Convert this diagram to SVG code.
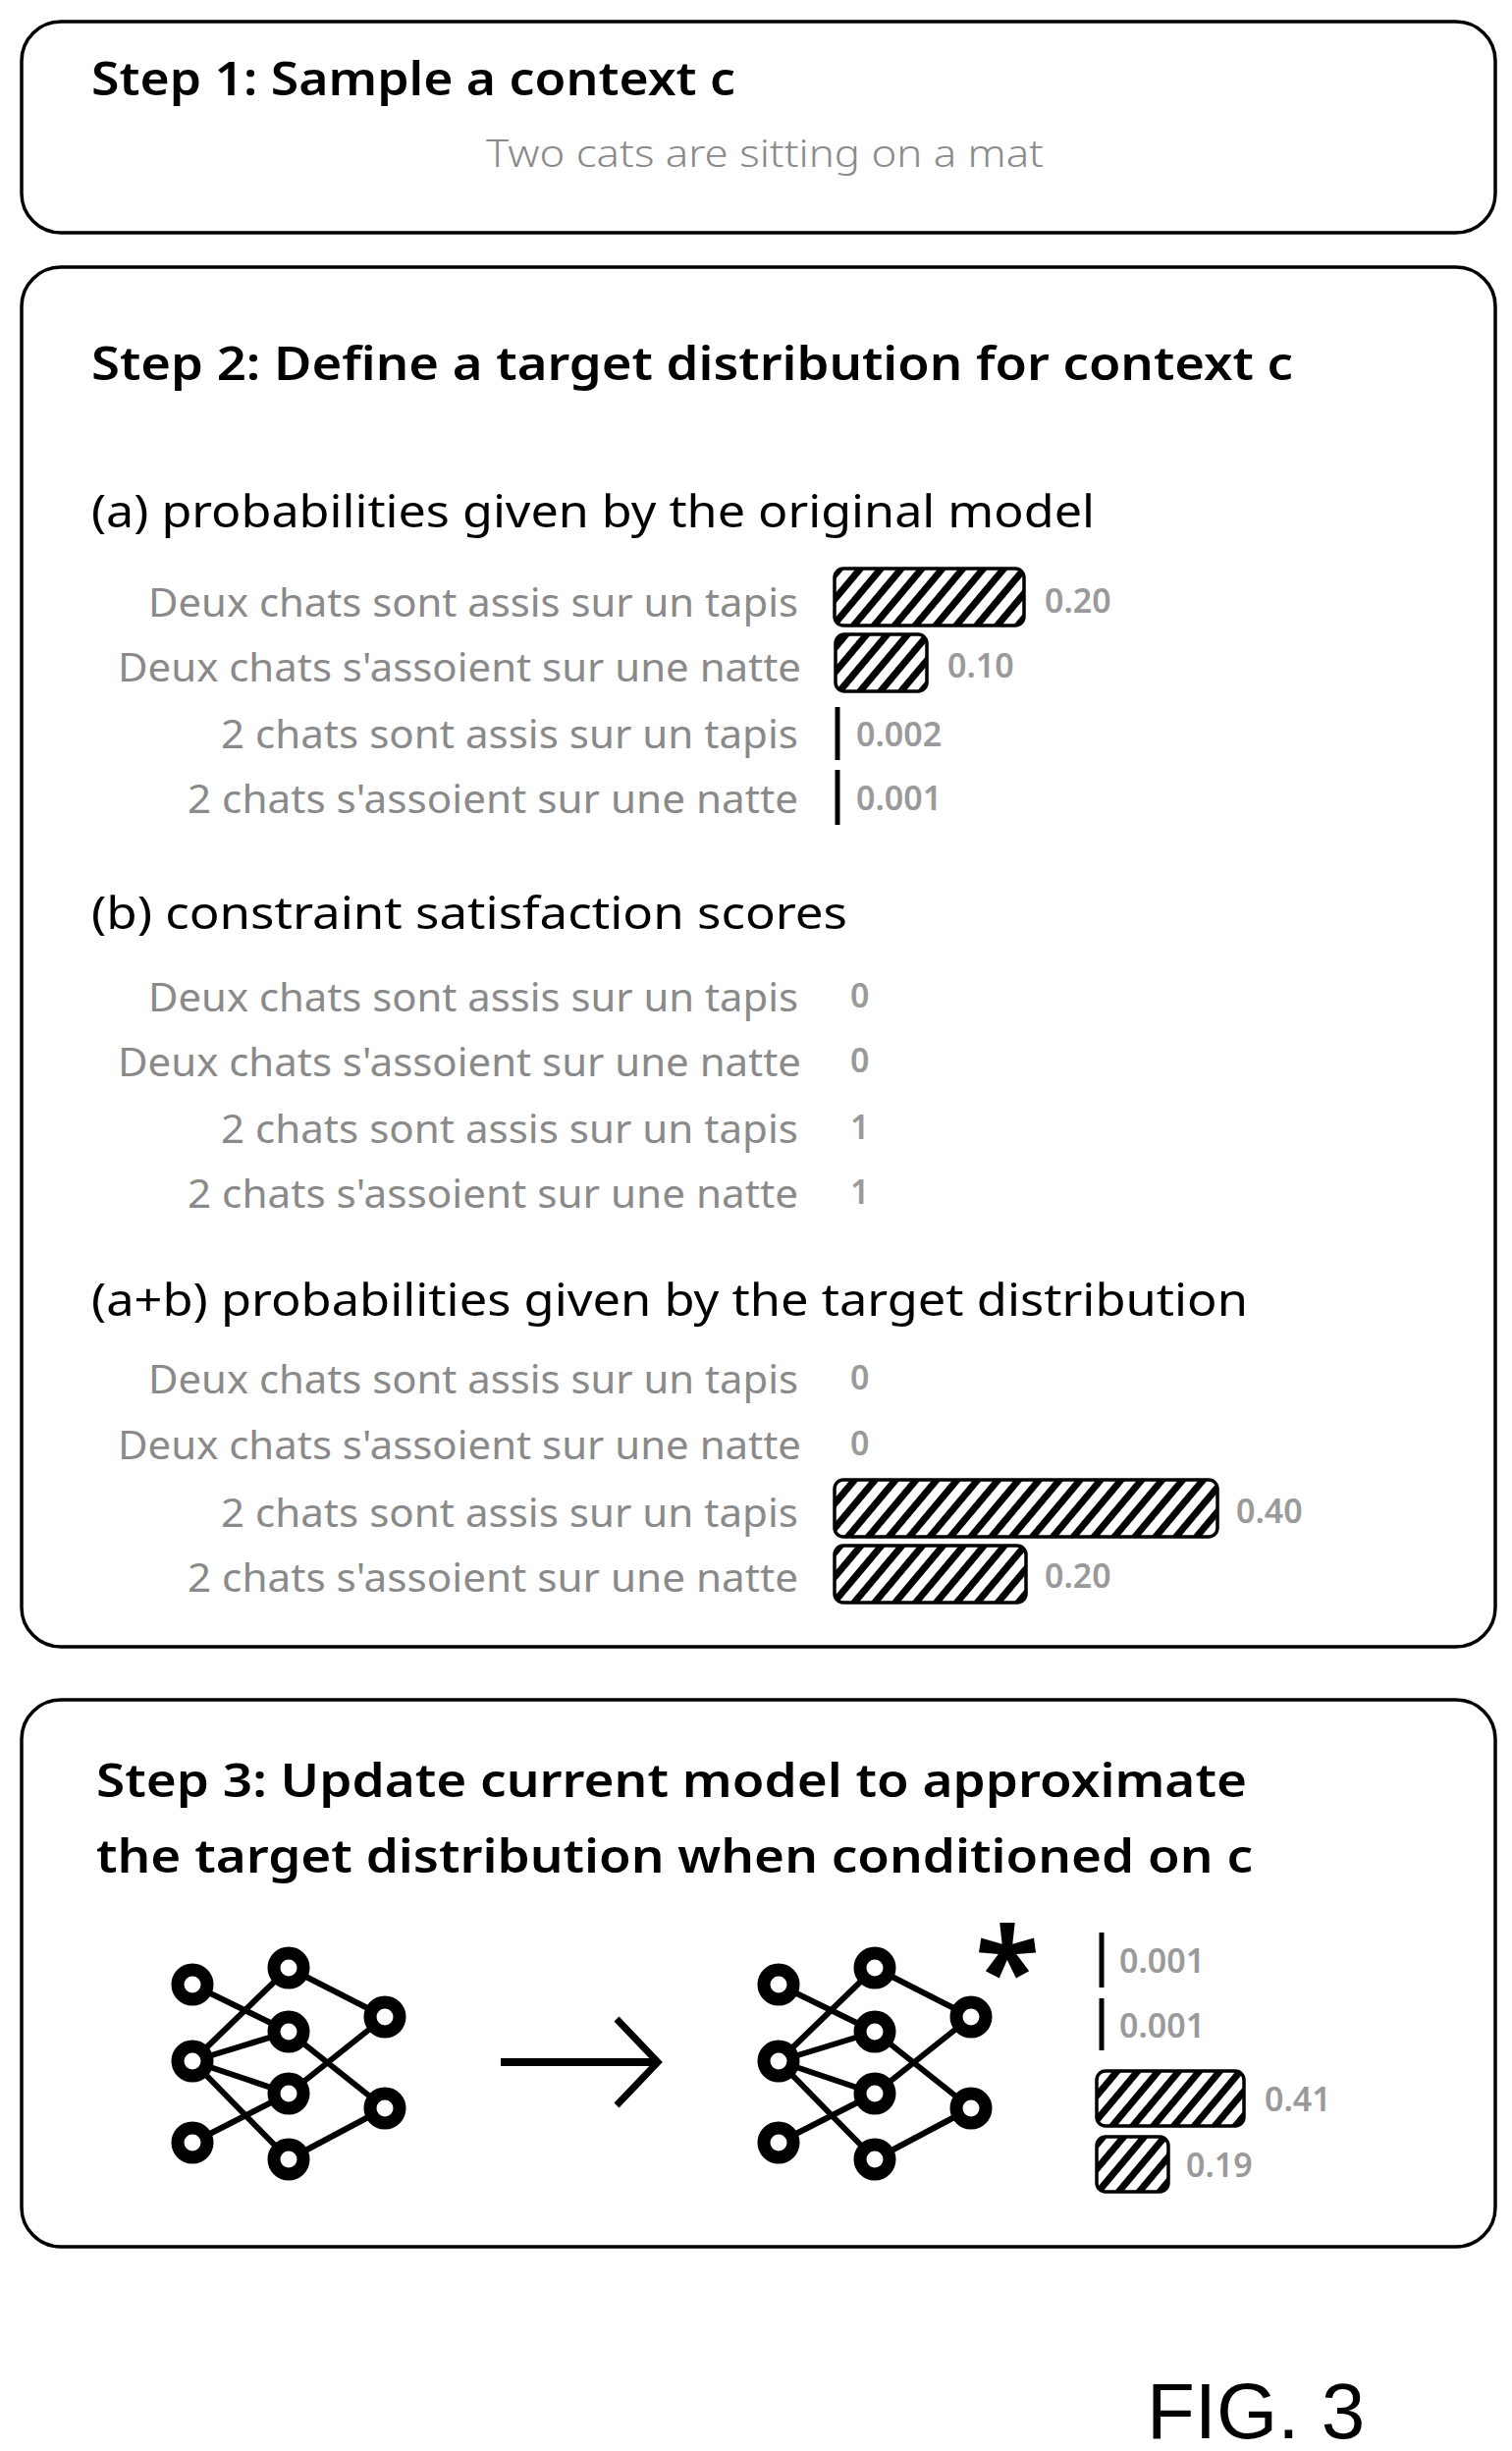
<svg xmlns="http://www.w3.org/2000/svg" width="1540" height="2496" viewBox="0 0 1540 2496">
<style>
.box{fill:#fff;stroke:#000;stroke-width:3.5}
.t{font-family:"Noto Sans","Open Sans",sans-serif;font-weight:600;fill:#000}
.s{font-family:"Noto Sans","Open Sans",sans-serif;fill:#000}
.l{font-family:"Noto Sans","Open Sans",sans-serif;font-size:40px;fill:#8a8a8a;text-anchor:end}
.v{font-family:"Noto Sans","Open Sans",sans-serif;font-size:34px;font-weight:600;fill:#9a9a9a}
.bar{fill:url(#hatch);stroke:#000;stroke-width:3.5}
.tick{stroke:#000;stroke-width:5}
.e{stroke:#000;stroke-width:6;fill:none}
.n{fill:#fff;stroke:#000;stroke-width:13}
</style>
<defs>
<pattern id="hatch" width="16" height="16" patternUnits="userSpaceOnUse" patternTransform="rotate(40)">
<rect width="16" height="16" fill="#fff"/><rect width="7" height="16" fill="#000"/>
</pattern>
<g id="net">
<g class="e">
<line x1="0" y1="19" x2="98" y2="67"/><line x1="98" y1="2" x2="0" y2="97"/><line x1="98" y1="2" x2="196" y2="52"/>
<line x1="0" y1="97" x2="98" y2="67"/><line x1="0" y1="97" x2="98" y2="130"/><line x1="0" y1="97" x2="98" y2="197"/>
<line x1="0" y1="180" x2="98" y2="130"/><line x1="98" y1="67" x2="196" y2="145"/><line x1="98" y1="130" x2="196" y2="52"/>
<line x1="98" y1="197" x2="196" y2="145"/>
</g>
<circle class="n" cx="0" cy="19" r="15"/><circle class="n" cx="98" cy="2" r="15"/><circle class="n" cx="196" cy="52" r="15"/>
<circle class="n" cx="98" cy="67" r="15"/><circle class="n" cx="0" cy="97" r="15"/><circle class="n" cx="98" cy="130" r="15"/>
<circle class="n" cx="196" cy="145" r="15"/><circle class="n" cx="0" cy="180" r="15"/><circle class="n" cx="98" cy="197" r="15"/>
</g>
</defs>
<rect width="1540" height="2496" fill="#fff"/>

<g id="step1">
<rect class="box" x="22" y="22" width="1501" height="215" rx="40"/>
<text class="t" x="93" y="97" font-size="46" textLength="656" lengthAdjust="spacingAndGlyphs">Step 1: Sample a context c</text>
<text class="s" x="779" y="170" font-size="38" text-anchor="middle" style="fill:#8a8a8a;font-weight:300" textLength="568" lengthAdjust="spacingAndGlyphs">Two cats are sitting on a mat</text>
</g>

<g id="step2">
<rect class="box" x="22" y="272" width="1501" height="1405" rx="40"/>
<text class="t" x="93" y="387" font-size="46" textLength="1224" lengthAdjust="spacingAndGlyphs">Step 2: Define a target distribution for context c</text>

<text class="s" x="93" y="537" font-size="46" textLength="1022" lengthAdjust="spacingAndGlyphs">(a) probabilities given by the original model</text>
<text class="l" x="813" y="628" textLength="662" lengthAdjust="spacingAndGlyphs">Deux chats sont assis sur un tapis</text>
<text class="l" x="816" y="694" textLength="696" lengthAdjust="spacingAndGlyphs">Deux chats s'assoient sur une natte</text>
<text class="l" x="813" y="762" textLength="588" lengthAdjust="spacingAndGlyphs">2 chats sont assis sur un tapis</text>
<text class="l" x="813" y="828" textLength="622" lengthAdjust="spacingAndGlyphs">2 chats s'assoient sur une natte</text>
<rect class="bar" x="850" y="579" width="193" height="58" rx="9"/><text class="v" x="1064" y="624">0.20</text>
<rect class="bar" x="851" y="646" width="93" height="58" rx="9"/><text class="v" x="965" y="690">0.10</text>
<line class="tick" x1="853" y1="720" x2="853" y2="774"/><text class="v" x="872" y="760">0.002</text>
<line class="tick" x1="853" y1="784" x2="853" y2="840"/><text class="v" x="872" y="825">0.001</text>

<text class="s" x="93" y="946" font-size="46" textLength="770" lengthAdjust="spacingAndGlyphs">(b) constraint satisfaction scores</text>
<text class="l" x="813" y="1030" textLength="662" lengthAdjust="spacingAndGlyphs">Deux chats sont assis sur un tapis</text>
<text class="l" x="816" y="1096" textLength="696" lengthAdjust="spacingAndGlyphs">Deux chats s'assoient sur une natte</text>
<text class="l" x="813" y="1164" textLength="588" lengthAdjust="spacingAndGlyphs">2 chats sont assis sur un tapis</text>
<text class="l" x="813" y="1230" textLength="622" lengthAdjust="spacingAndGlyphs">2 chats s'assoient sur une natte</text>
<text class="v" x="866" y="1026">0</text><text class="v" x="866" y="1092">0</text>
<text class="v" x="866" y="1160">1</text><text class="v" x="866" y="1226">1</text>

<text class="s" x="93" y="1340" font-size="46" textLength="1178" lengthAdjust="spacingAndGlyphs">(a+b) probabilities given by the target distribution</text>
<text class="l" x="813" y="1419" textLength="662" lengthAdjust="spacingAndGlyphs">Deux chats sont assis sur un tapis</text>
<text class="l" x="816" y="1486" textLength="696" lengthAdjust="spacingAndGlyphs">Deux chats s'assoient sur une natte</text>
<text class="l" x="813" y="1555" textLength="588" lengthAdjust="spacingAndGlyphs">2 chats sont assis sur un tapis</text>
<text class="l" x="813" y="1621" textLength="622" lengthAdjust="spacingAndGlyphs">2 chats s'assoient sur une natte</text>
<text class="v" x="866" y="1415">0</text><text class="v" x="866" y="1482">0</text>
<rect class="bar" x="850" y="1507" width="390" height="58" rx="9"/><text class="v" x="1259" y="1551">0.40</text>
<rect class="bar" x="850" y="1574" width="195" height="58" rx="9"/><text class="v" x="1064" y="1617">0.20</text>
</g>

<g id="step3">
<rect class="box" x="22" y="1731" width="1501" height="557" rx="40"/>
<text class="t" x="98" y="1830" font-size="46" textLength="1172" lengthAdjust="spacingAndGlyphs">Step 3:  Update current model to approximate</text>
<text class="t" x="98" y="1907" font-size="46" textLength="1178" lengthAdjust="spacingAndGlyphs">the target distribution when conditioned on c</text>
<use href="#net" x="196" y="2002"/>
<use href="#net" x="793" y="2002"/>
<text class="t" x="1026" y="2050" font-size="120" text-anchor="middle" style="font-weight:700">*</text>
<line class="tick" x1="1122" y1="1968" x2="1122" y2="2024"/><text class="v" x="1140" y="2009">0.001</text>
<line class="tick" x1="1122" y1="2035" x2="1122" y2="2088"/><text class="v" x="1140" y="2075">0.001</text>
<rect class="bar" x="1117" y="2109" width="150" height="56" rx="9"/><text class="v" x="1288" y="2150">0.41</text>
<rect class="bar" x="1117" y="2176" width="73" height="56" rx="9"/><text class="v" x="1208" y="2217">0.19</text>
</g>

<g id="connectors">
<line x1="510" y1="2100" x2="668" y2="2100" stroke="#000" stroke-width="8"/>
<polyline points="628,2056 670,2100 628,2144" fill="none" stroke="#000" stroke-width="7"/>
</g>

<text x="1168" y="2483" font-family="Liberation Sans, Arial, sans-serif" font-size="80" fill="#000">FIG. 3</text>
</svg>
